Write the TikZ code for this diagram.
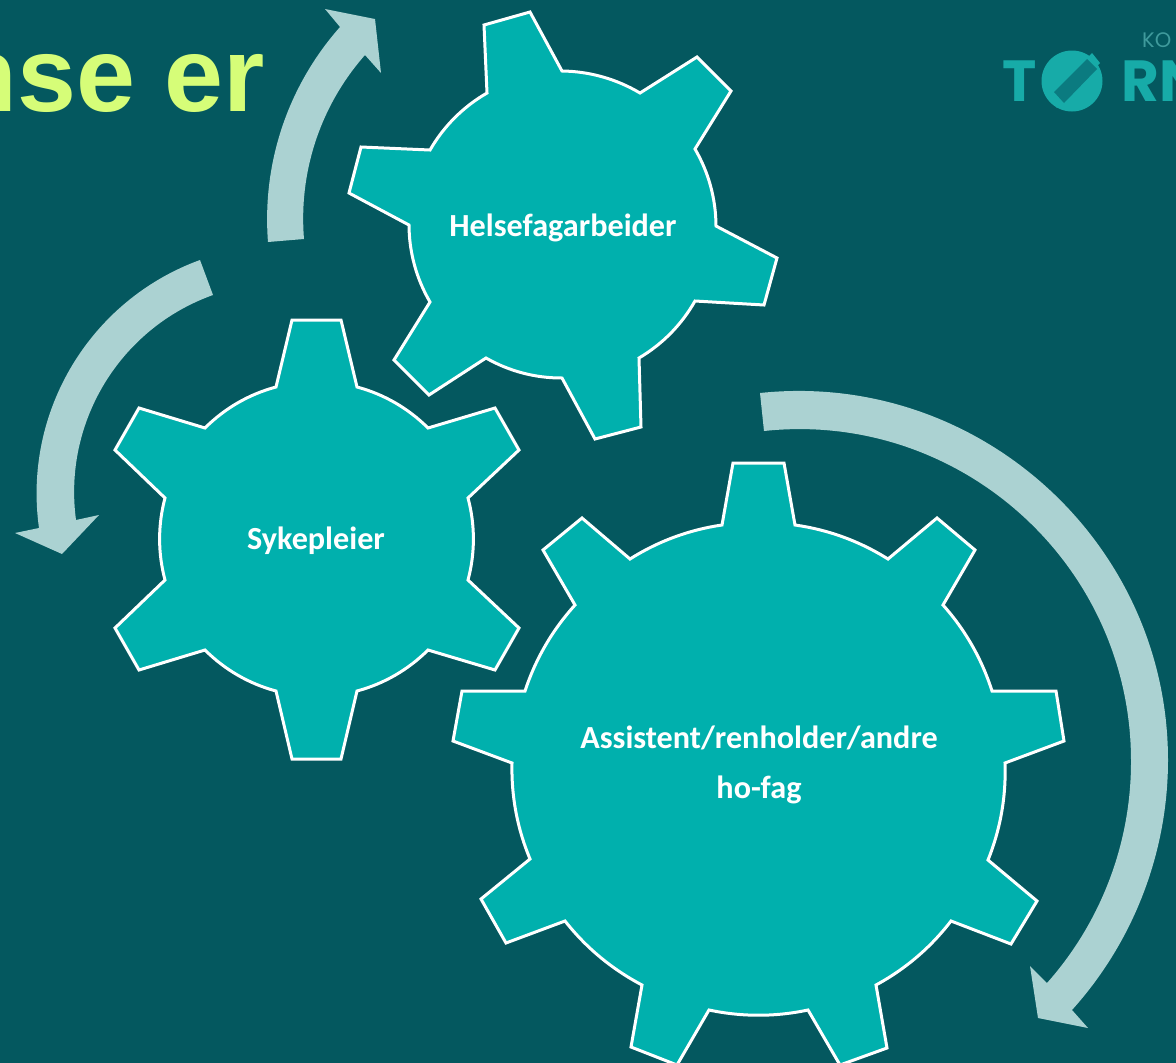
\documentclass[tikz,border=0pt]{standalone}
\usepackage{fontspec}
\setmainfont{Carlito}
\newfontfamily\titlefont{Liberation Sans}
\newfontfamily\logofont{Poppins}
\definecolor{bgteal}{HTML}{04585F}
\definecolor{gearteal}{HTML}{00B0AD}
\definecolor{flowgrey}{HTML}{ABD2D2}
\definecolor{titlegreen}{HTML}{D6FD78}
\definecolor{logoteal}{HTML}{17ABA8}
\definecolor{logopale}{HTML}{3F9A9C}
\definecolor{logobar}{HTML}{0B7B80}
\begin{document}
\begin{tikzpicture}[x=1pt,y=-1pt]
	\tikzstyle{gear} = [draw=white, line width=3pt, line join=miter, fill=gearteal, looseness=0.87]
	\tikzstyle{flow} = [fill=flowgrey]
	\tikzstyle{lbl} = [text=white, font=\fontsize{32.2}{32.2}\selectfont\bfseries, inner sep=0pt]
	\tikzstyle{logo} = [text=logoteal, font=\logofont\fontsize{58}{58}\selectfont\bfseries, inner sep=0pt, anchor=base west]
	\useasboundingbox (0,0) rectangle (1176,1063);
	\clip (0,0) rectangle (1176,1063);
	\fill[bgteal] (0,0) rectangle (1176,1063);
	% title and logo
	\node[text=titlegreen, font=\titlefont\fontsize{106}{106}\selectfont\bfseries, inner sep=0pt, anchor=base east] (title) at (265,111) {nse er};
	\node[logo] (logo-t) at (1002,101) {T};
	\fill[logoteal] (1072,81) circle (30.5);
	\fill[logoteal] (1049,98) -- (1057,108) -- (1100,63) -- (1092,53) -- cycle;
	\fill[logobar] (1054,92) -- (1064,103) -- (1097,69) -- (1087,59) -- cycle;
	\node[logo] (logo-rn) at (1121,101) {RN};
	\node[text=logopale, font=\logofont\fontsize{21}{21}\selectfont, inner sep=0pt, anchor=base west] (logo-ko) at (1142,47) {KO};
	% arrows
	\fill[flow, looseness=0.89] (268,242) to[bend left=23] (340,27) -- (325,9) -- (375,19) -- (381,73) -- (365,55)
		to[bend right=23] (304,239) -- cycle;
	\fill[flow, looseness=0.96] (200,260) to[bend right=39] (39,528) -- (15,533) -- (62,554) -- (99,515) -- (76,520)
		to[bend left=39] (213,295) -- cycle;
	\fill[flow] (760,393) to[bend left=48, looseness=1.02] (1168,760) to[bend left=21, looseness=0.88] (1072,1010) -- (1088,1028)
		-- (1038,1018) -- (1030,966) -- (1047,983)
		to[bend right=21, looseness=0.88] (1131,760) to[bend right=48, looseness=1.02] (764,431) -- cycle;
	% gears
	\draw[gear] (484,25) -- (530,12) -- (562,71) to[bend left=15] (640,93)
		-- (697,57) -- (731,91) -- (695,149) to[bend left=15] (716,226)
		-- (777,258) -- (764,305) -- (695,301) to[bend left=15] (639,358)
		-- (641,427) -- (595,439) -- (562,378) to[bend left=15] (486,358)
		-- (429,395) -- (394,360) -- (430,302) to[bend left=15] (409,225)
		-- (349,193) -- (361,147) -- (430,150) to[bend left=15] (487,93) -- cycle;
	\draw[gear] (292,320) -- (341,320) -- (357,387) to[bend left=15] (428,428)
		-- (495,408) -- (519,450) -- (468,498) to[bend left=15] (468,580)
		-- (519,628) -- (495,670) -- (428,650) to[bend left=15] (357,691)
		-- (341,759) -- (292,759) -- (276,691) to[bend left=15] (205,650)
		-- (139,670) -- (115,628) -- (165,580) to[bend left=15] (165,498)
		-- (115,450) -- (139,408) -- (205,428) to[bend left=15] (276,387) -- cycle;
	\draw[gear] (733,463) -- (784,463) -- (795,525) to[bend left=12] (888,559)
		-- (937,518) -- (975,550) -- (943,605) to[bend left=12] (992,691)
		-- (1056,691) -- (1064,741) -- (1005,763) to[bend left=12] (988,860)
		-- (1037,901) -- (1011,944) -- (951,921) to[bend left=12] (876,985)
		-- (887,1048) -- (840,1065) -- (808,1010) to[bend left=12] (709,1010)
		-- (677,1065) -- (631,1047) -- (642,985) to[bend left=12] (565,921)
		-- (506,943) -- (481,899) -- (530,859) to[bend left=12] (512,763)
		-- (453,741) -- (462,691) -- (525,691) to[bend left=12] (575,605)
		-- (543,550) -- (582,518) -- (630,559) to[bend left=12] (722,525) -- cycle;
	% labels
	\node[lbl] (helse) at (563,228) {Helsefagarbeider};
	\node[lbl] (syke) at (316,541) {Sykepleier};
	\node[lbl] (assist) at (759,738) {Assistent/renholder/andre};
	\node[lbl] (hofag) at (759,790) {ho-fag};
\end{tikzpicture}
\end{document}
